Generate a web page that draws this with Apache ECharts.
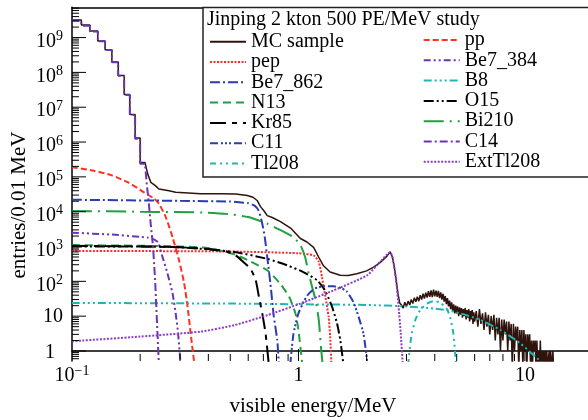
<!DOCTYPE html>
<html>
<head>
<meta charset="utf-8">
<script src="https://cdn.jsdelivr.net/npm/echarts@6.0.0/dist/echarts.min.js"></script>
<style>
  html, body { margin: 0; padding: 0; background: #fff; }
  #chart { width: 588px; height: 420px; }
</style>
</head>
<body>
<div id="chart"></div>
<script>
// axis ranges (MeV, entries per 0.01 MeV)
const xMin = 0.1, xMax = 19;
const yMin = 0.516, yMax = 7.4e9;

// low-energy 0.01 MeV bins where C14 dominates (drawn as steps)
const stairEdges = [0.10, 0.11, 0.12, 0.13, 0.14, 0.15, 0.16, 0.17, 0.18, 0.19, 0.20, 0.21];
const mcStairV  = [3.2e9, 2.3e9, 1.55e9, 8.0e8, 4.5e8, 2.0e8, 8.2e7, 2.3e7, 6.2e6, 1.3e6, 2.6e5];
const c14StairV = [3.1e9, 2.2e9, 1.5e9, 7.8e8, 4.4e8, 1.95e8, 8.0e7, 2.25e7, 6.0e6, 1.25e6, 2.4e5];

// MC sample, smooth middle part
const mcMidE = [0.216, 0.223, 0.234, 0.242, 0.268, 0.287, 0.37, 0.45, 0.528, 0.594,
  0.63, 0.657, 0.68, 0.705, 0.728, 0.766, 0.833, 0.923, 1.02, 1.09,
  1.167, 1.228, 1.29, 1.38, 1.53, 1.66, 1.81, 2.0, 2.15, 2.3,
  2.46, 2.54, 2.6, 2.65, 2.7, 2.75, 2.8, 2.85];
const mcMidV = [1.2e5, 6.9e4, 5.5e4, 4.5e4, 4.0e4, 3.6e4, 3.3e4, 3.25e4, 3.2e4, 2.9e4,
  2.6e4, 2.1e4, 1.4e4, 1.05e4, 7.7e3, 6.8e3, 5.2e3, 3.4e3, 1.7e3, 1.35e3,
  950, 500, 280, 185, 150, 148, 165, 200, 255, 350,
  530, 700, 500, 260, 110, 45, 24, 21];
// MC sample, noisy part: every 0.05 MeV from 2.9 to 6.0
const mcHiAStart = 2.9, mcHiAStep = 0.05;
const mcHiAV = [17, 25, 19, 27, 21, 30, 23, 34, 26, 36, 27, 40,
  30, 44, 32, 47, 34, 52, 36, 55, 35, 58,
  37, 54, 36, 53, 33, 48, 30, 44, 26, 38,
  22, 33, 19, 28, 16, 25, 14, 22, 12, 20,
  12, 19, 10, 18, 11, 17, 9, 16, 10, 17,
  8, 15, 9, 16, 7, 14, 8, 15, 6, 13,
  7];
// then every 0.1 MeV from 6.1 to 13.4
const mcHiBStart = 6.1, mcHiBStep = 0.1;
const mcHiBV = [14, 5, 16, 6, 12, 4, 13, 5, 11, 3,
  10, 4, 11, 2, 9, 3, 9, 1, 8, 2,
  8, 3, 7, 1, 7, 2, 6, 0.3, 6, 1,
  5, 2, 5, 0.3, 4, 1, 4, 0.3, 4, 1,
  3, 0.3, 3, 1, 3, 0.3, 2, 0.3, 2, 1,
  2, 0.3, 2, 0.3, 1, 0.3, 2, 0.3, 1, 0.3,
  1, 0.3, 1, 0.3, 1, 0.3, 0.3, 1, 0.3, 1,
  0.3, 0.3, 1, 0.3];

const c14TailE = [0.214, 0.218, 0.223, 0.228, 0.233, 0.237, 0.242];
const c14TailV = [6e4, 2e4, 4e3, 1e3, 100, 8, 0.4];

const ppE = [0.1, 0.125, 0.15, 0.177, 0.208, 0.23, 0.242, 0.26, 0.278, 0.297, 0.313, 0.324, 0.334, 0.346];
const ppV = [1.9e5, 1.5e5, 1.1e5, 6.9e4, 3.6e4, 2.4e4, 1.7e4, 6.8e3, 1.85e3, 400, 86, 18.5, 3.3, 0.5];

const pepE = [0.1, 0.5, 1.0, 1.17, 1.23, 1.27, 1.315, 1.36, 1.38, 1.4];
const pepV = [750, 720, 640, 550, 360, 133, 36, 9.5, 2.6, 0.4];

const be7_862E = [0.1, 0.3, 0.5, 0.6, 0.64, 0.667, 0.69, 0.71, 0.728, 0.753, 0.778, 0.806, 0.82];
const be7_862V = [2.2e4, 2.05e4, 1.95e4, 1.75e4, 1.5e4, 1.07e4, 5e3, 1.85e3, 500, 80, 10, 2.1, 0.4];

const be7_384E = [0.1, 0.15, 0.2, 0.216, 0.23, 0.24, 0.251, 0.264, 0.278, 0.287, 0.294, 0.302];
const be7_384V = [2.5e3, 2.2e3, 1.9e3, 1.8e3, 1.6e3, 1.3e3, 500, 170, 45, 12, 3.3, 0.4];

const b8E = [0.1, 0.5, 1, 2, 3, 4, 4.5, 5.2, 6.3, 7.8, 9.5, 10.5, 11.4, 12.2];
const b8V = [24, 23, 22, 21, 19, 16.5, 15, 12, 8, 4, 1.7, 0.95, 0.6, 0.35];

const n13E = [0.1, 0.2, 0.3, 0.4, 0.52, 0.61, 0.73, 0.83, 0.91, 0.97, 1.0, 1.04];
const n13V = [1.1e3, 1.05e3, 1.0e3, 900, 600, 380, 205, 86, 36, 12, 4, 0.4];

const o15E = [0.1, 0.2, 0.3, 0.52, 0.73, 0.89, 1.05, 1.21, 1.31, 1.41, 1.48, 1.53, 1.58];
const o15V = [1.0e3, 1.0e3, 950, 700, 440, 290, 185, 107, 55, 18, 6.2, 2.1, 0.4];

const kr85E = [0.1, 0.2, 0.3, 0.4, 0.47, 0.52, 0.574, 0.614, 0.647, 0.669, 0.692, 0.716, 0.74];
const kr85V = [1.05e3, 1.0e3, 950, 850, 750, 600, 350, 230, 110, 36, 12, 3.2, 0.4];

const bi210E = [0.1, 0.2, 0.38, 0.49, 0.6, 0.73, 0.83, 0.95, 1.02, 1.07, 1.11, 1.15, 1.19, 1.23, 1.26, 1.28];
const bi210V = [1.05e4, 1.0e4, 9.5e3, 8.5e3, 7e3, 4.5e3, 3e3, 1.85e3, 1.1e3, 500, 170, 68, 29, 7.7, 1.1, 0.4];

const c11E = [0.92, 0.95, 1.0, 1.09, 1.18, 1.3, 1.43, 1.55, 1.64, 1.75, 1.84, 1.94, 2.02];
const c11V = [0.4, 3, 12, 38, 62, 72, 72, 63, 50, 25, 10, 3, 0.4];

const tl208E = [3.05, 3.15, 3.28, 3.45, 3.7, 3.95, 4.2, 4.5, 4.67, 4.83, 4.97];
const tl208V = [0.4, 2.6, 7.7, 15, 23, 27, 25, 17, 9.5, 3.2, 0.4];

const extTl208E = [0.1, 0.2, 0.37, 0.52, 0.73, 1.02, 1.43, 2.01, 2.22, 2.47, 2.54, 2.6, 2.65, 2.7, 2.77, 2.83, 2.89];
const extTl208V = [1.9, 2.6, 3.6, 5.5, 10.7, 23, 55, 148, 290, 600, 690, 500, 250, 107, 18, 3.2, 0.4];

const leftNames = ['MC sample', 'pep', 'Be7_862', 'N13', 'Kr85', 'C11', 'Tl208'];
const rightNames = ['pp', 'Be7_384', 'B8', 'O15', 'Bi210', 'C14', 'ExtTl208'];

const FONT = 'Liberation Serif';

function pairs(E, V) { return E.map((e, i) => [e, V[i]]); }

function stairs(edges, V) {
  const out = [];
  V.forEach((v, i) => { out.push([edges[i], v], [edges[i + 1], v]); });
  return out;
}

function binned(start, step, V) {
  return V.map((v, i) => [Math.round((start + i * step) * 100) / 100, v]);
}

function curve(name, data, color, dash, width) {
  return {
    name, type: 'line', data, symbol: 'none', smooth: 0.2,
    lineStyle: { color, width: width || 2, type: dash },
    itemStyle: { color }
  };
}

const mcData = stairs(stairEdges, mcStairV)
  .concat(pairs(mcMidE, mcMidV))
  .concat(binned(mcHiAStart, mcHiAStep, mcHiAV))
  .concat(binned(mcHiBStart, mcHiBStep, mcHiBV));

const c14Data = stairs(stairEdges, c14StairV).concat(pairs(c14TailE, c14TailV));

// log-spaced tick marks drawn inside the frame
const yTicks = [];
for (let n = -1; n <= 9; n++) for (let k = 1; k <= 9; k++) {
  const v = k * Math.pow(10, n);
  if (v > yMin && v < yMax) yTicks.push([xMin, v, k === 1 ? 1 : 0]);
}
const xTicks = [];
for (let n = -1; n <= 1; n++) for (let k = 1; k <= 9; k++) {
  const v = k * Math.pow(10, n);
  if (v > xMin * 1.001 && v < xMax) xTicks.push([v, yMin, k === 1 ? 1 : 0]);
}

const chart = echarts.init(document.getElementById('chart'));

const legendBase = {
  orient: 'vertical', padding: 0, itemWidth: 36, itemHeight: 14, itemGap: 0.3,
  selectedMode: false,
  itemStyle: { opacity: 0 },
  textStyle: { fontFamily: FONT, fontSize: 20, lineHeight: 20, color: '#000' }
};

chart.setOption({
  animation: false,
  backgroundColor: '#fff',
  title: {
    text: 'Jinping 2 kton 500 PE/MeV study', left: 207, top: 10, padding: 0,
    textStyle: { fontFamily: FONT, fontSize: 20, fontWeight: 'normal', color: '#000' }
  },
  legend: [
    Object.assign({ data: leftNames, left: 209, top: 31.7 }, legendBase),
    Object.assign({ data: rightNames, left: 422.7, top: 30 }, legendBase)
  ],
  grid: { left: 72, right: 0, top: 7.3, bottom: 59 },
  xAxis: [{
    type: 'log', min: xMin, max: xMax, interval: 1,
    axisLine: { show: true, lineStyle: { color: '#000', width: 1.5 } },
    axisTick: { show: false }, splitLine: { show: false },
    axisLabel: {
      margin: 3, showMaxLabel: false, color: '#000',
      formatter: v => Math.abs(v - 0.1) < 1e-9 ? '{b|10}{s|\u22121}' : (Math.abs(v - 1) < 1e-9 ? '{b|1}' : (Math.abs(v - 10) < 1e-9 ? '{b|10}' : '')),
      rich: {
        b: { fontFamily: FONT, fontSize: 20, lineHeight: 20, padding: [4, 0, 0, 0], color: '#000' },
        s: { fontFamily: FONT, fontSize: 14, lineHeight: 14, verticalAlign: 'top', color: '#000' }
      }
    }
  }, {
    type: 'value', position: 'top', min: 0, max: 1,
    axisLine: { show: true, lineStyle: { color: '#000', width: 1.5 } },
    axisTick: { show: false }, axisLabel: { show: false }, splitLine: { show: false }
  }],
  yAxis: [{
    type: 'log', min: yMin, max: yMax,
    axisLine: { show: true, lineStyle: { color: '#000', width: 1.5 } },
    axisTick: { show: false }, axisLabel: { show: false }, splitLine: { show: false }
  }, {
    // decade labels, same span as the log axis in log10 units
    type: 'value', position: 'left', min: Math.log10(yMin), max: Math.log10(yMax), splitNumber: 10,
    axisLine: { show: false }, axisTick: { show: false }, splitLine: { show: false },
    axisLabel: {
      margin: 9, showMinLabel: false, showMaxLabel: false, color: '#000',
      formatter: v => {
        const n = Math.round(v);
        if (Math.abs(v - n) > 1e-6) return '';
        if (n === 0) return '{p|1}';
        if (n === 1) return '{t|10}';
        return '{b|10}{s|' + n + '}';
      },
      rich: {
        b: { fontFamily: FONT, fontSize: 20, lineHeight: 20, padding: [8, 0, 0, 0], color: '#000' },
        s: { fontFamily: FONT, fontSize: 14, lineHeight: 14, verticalAlign: 'top', padding: [2, 0, 0, 0], color: '#000' },
        t: { fontFamily: FONT, fontSize: 20, lineHeight: 20, padding: [2, 0, 0, 0], color: '#000' },
        p: { fontFamily: FONT, fontSize: 20, lineHeight: 20, padding: [4, 8, 0, 0], color: '#000' }
      }
    }
  }],
  graphic: [
    { type: 'rect', z: 3, shape: { x: 203, y: 7.5, width: 400, height: 169.5 },
      style: { fill: '#fff', stroke: '#222', lineWidth: 1.5 } },
    { type: 'text', x: 313, y: 406, z: 5,
      style: { text: 'visible energy/MeV', font: '21px "Liberation Serif"', fill: '#000', align: 'center', verticalAlign: 'middle' } },
    { type: 'text', x: 19, y: 205, rotation: Math.PI / 2, z: 5,
      style: { text: 'entries/0.01 MeV', font: '21px "Liberation Serif"', fill: '#000', align: 'center', verticalAlign: 'middle' } }
  ],
  series: [
    Object.assign(curve('MC sample', mcData, '#2e140c', 'solid', 1.5), { smooth: false }),
    curve('pp', pairs(ppE, ppV), '#ff3020', [6, 3]),
    curve('pep', pairs(pepE, pepV), '#ff2a2a', [2, 1.5]),
    curve('Be7_862', pairs(be7_862E, be7_862V), '#2b3bb0', [10, 3, 2, 3]),
    curve('Be7_384', pairs(be7_384E, be7_384V), '#6a35b5', [7, 3, 2, 3, 2, 3]),
    curve('B8', pairs(b8E, b8V), '#20b5b5', [8, 3, 2, 3, 2, 3, 2, 3]),
    curve('N13', pairs(n13E, n13V), '#20a040', [8, 5]),
    curve('O15', pairs(o15E, o15V), '#000', [10, 3, 2, 3, 2, 3]),
    curve('Kr85', pairs(kr85E, kr85V), '#000', [16, 6, 5, 6]),
    curve('Bi210', pairs(bi210E, bi210V), '#20a040', [20, 6, 2, 6]),
    curve('C11', pairs(c11E, c11V), '#2b3bb0', [8, 3, 2, 2, 2, 2, 2, 3]),
    Object.assign(curve('C14', c14Data, '#6a35b5', [8, 3, 2, 3]), { smooth: false }),
    curve('Tl208', pairs(tl208E, tl208V), '#20b5b5', [6, 4, 2, 4, 2, 4]),
    curve('ExtTl208', pairs(extTl208E, extTl208V), '#8c3cc8', [2, 1.5]),
    {
      type: 'custom', silent: true, data: yTicks, z: 4,
      renderItem: (params, api) => {
        const p = api.coord([api.value(0), api.value(1)]);
        const len = api.value(2) ? 14 : 7;
        return { type: 'line', shape: { x1: p[0], y1: p[1], x2: p[0] + len, y2: p[1] }, style: { stroke: '#000', lineWidth: 1 } };
      }
    },
    {
      type: 'custom', silent: true, data: xTicks, z: 4,
      renderItem: (params, api) => {
        const p = api.coord([api.value(0), api.value(1)]);
        const len = api.value(2) ? 12 : 7;
        return { type: 'line', shape: { x1: p[0], y1: p[1], x2: p[0], y2: p[1] - len }, style: { stroke: '#000', lineWidth: 1 } };
      }
    }
  ]
});

window.addEventListener('resize', () => chart.resize());
</script>
</body>
</html>
